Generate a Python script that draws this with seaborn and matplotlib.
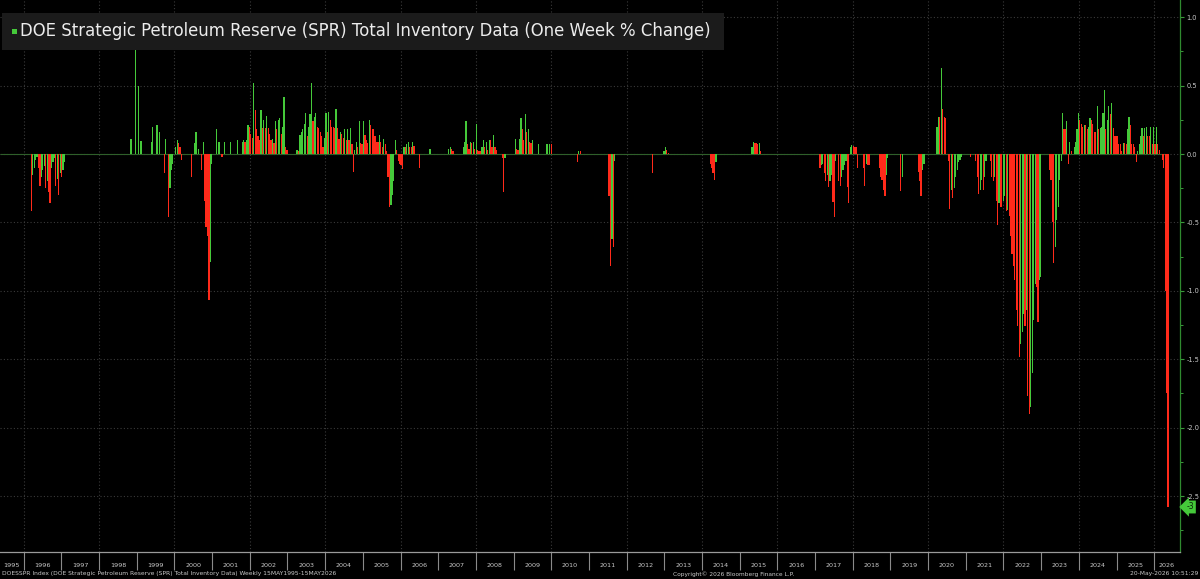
import numpy as np
import pandas as pd
import matplotlib
matplotlib.use("Agg")
import matplotlib.pyplot as plt
import matplotlib.dates as mdates
import matplotlib.transforms as mtrans
from matplotlib.patches import Rectangle
import seaborn as sns

# ---------------- texts ----------------
title_text = "DOE Strategic Petroleum Reserve (SPR) Total Inventory Data (One Week % Change)"
footer_left = "DOESSPR Index (DOE Strategic Petroleum Reserve (SPR) Total Inventory Data) Weekly 15MAY1995-15MAY2026"
footer_mid = "Copyright\u00a9 2026 Bloomberg Finance L.P."
footer_right = "20-May-2026 10:51:29"
last_label = "-3"

first_date = "1995-05-19"
last_date = "2026-05-15"
year_labels = list(range(1995, 2027))
y_ticks = [1.0, 0.5, 0.0, -0.5, -1.0, -1.5, -2.0, -2.5]

# ---------------- data: one-week % change, read at ~2-week resolution ----------------
# each episode: start (decimal year) and consecutive bi-weekly readings
ep_1996_start = 1996.21
ep_1996 = [-0.42, -0.15, -0.10, -0.04, -0.02, -0.10, -0.23, -0.17, -0.12, -0.09,
           -0.25, -0.20, -0.28, -0.36, -0.10, -0.06, -0.03, -0.23, -0.18, -0.30,
           -0.14, -0.17, -0.12, -0.06]

ep_1998_start = 1998.848
ep_1998_2002 = [0.107, 0, 0, 0.80, 0, 0.50, 0, 0.095, 0, 0,
                0, 0, 0, 0, 0.09, 0.195, 0, 0, 0.21, 0,
                0.16, 0, 0, -0.14, 0.11, 0, -0.46, -0.25, -0.12, -0.07,
                0, 0.05, 0.10, 0.08, 0.05, -0.04, 0, 0, 0, 0,
                0, 0, -0.17, 0, 0.08, 0.16, 0, 0.04, 0, -0.12,
                0.085, -0.34, -0.53, -0.60, -1.07, -0.79, -0.07, 0, 0, 0.18,
                0, 0.085, 0, -0.02, 0, 0.085, 0, 0, 0, 0.09,
                0, 0, 0, 0, 0.10, 0, 0, 0.09, 0.10, 0.09,
                0.10, 0.21, 0.20, 0.15, 0.12, 0.52, 0.32, 0.18, 0.13, 0.10,
                0.32, 0.19, 0.25, 0.19, 0.28, 0.19, 0.15, 0.10, 0.11, 0.08]
ep_2002_2006 = [0.24, 0.18, 0.25, 0.26, 0.15, 0.20, 0.42, 0.05, 0.03, 0,
                0, 0, 0, 0, 0, 0.03, 0.02, 0.14, 0.16, 0.18,
                0.22, 0.30, 0.13, 0.20, 0.29, 0.52, 0.24, 0.27, 0.30, 0.20,
                0.19, 0.16, 0.13, 0.05, 0.12, 0.30, 0.16, 0.31, 0.25, 0.20,
                0.20, 0.19, 0.33, 0.19, 0.11, 0.16, 0.15, 0.12, 0.18, 0.10,
                0.18, 0.10, 0.19, 0.07, -0.13, 0.03, 0.09, 0.05, 0.24, 0.08,
                0.07, 0.24, 0.14, 0.10, 0.08, 0.25, 0.21, 0.18, 0.18, 0.13,
                0.09, 0.09, 0.14, 0.09, 0.05, 0.11, 0.07, 0.02, -0.17, -0.39,
                -0.37, -0.30, -0.20, 0.10, 0.03, -0.05, -0.07, -0.08, -0.11, 0.05,
                0.05, 0.07, 0.09, 0.05, 0.05, 0.09, 0.06, 0, 0, 0]
ep_2006_2010 = [-0.105, 0, 0, 0, 0, 0, 0, 0.04, 0, 0,
                0, 0, 0, 0, 0, 0, 0, 0, 0, 0,
                0.04, 0.05, 0.04, 0.02, 0, 0, 0, 0, 0, 0,
                0.05, 0.09, 0.24, 0.07, 0.04, 0.09, 0.08, 0.09, 0.04, 0.22,
                0.03, 0.02, 0.02, 0.05, 0.10, 0.05, 0.09, 0.03, 0.10, 0.10,
                0.05, 0.14, 0.05, 0.03, 0, 0, 0, -0.03, -0.28, -0.03,
                0, 0, 0, 0, 0, 0, 0.11, 0.04, 0.03, 0.11,
                0.26, 0.18, 0.10, 0.29, 0.16, 0.18, 0.09, 0.08, 0.10, 0,
                0, 0, 0.07, 0, 0, 0, 0, 0, 0.07, 0,
                0.07, 0.07]

ep_2010_start = 2010.695
ep_2010 = [-0.056, 0.025, 0.02]
ep_2011_start = 2011.539
ep_2011 = [-0.31, -0.82, -0.62, -0.68, -0.05]
ep_2012a_start = 2012.688
ep_2012a = [-0.14]
ep_2012b_start = 2012.996
ep_2012b = [0.02, 0.05, 0.03, 0.01]
ep_2014_start = 2014.222
ep_2014 = [-0.07, -0.10, -0.14, -0.19, -0.06]
ep_2015_start = 2015.334
ep_2015 = [0.05, 0.09, 0.08, 0.08, 0.07, 0.08, 0.02]

ep_2017_start = 2017.136
ep_2017_2020 = [-0.10, -0.08, -0.07, -0.14, -0.20, -0.15, -0.24, -0.20, -0.15, -0.35,
                -0.46, -0.05, 0, -0.20, -0.23, -0.17, -0.12, -0.08, -0.05, -0.24,
                -0.36, 0.05, 0.066, 0.06, 0.055, 0.05, -0.10, 0, 0, 0,
                -0.10, -0.23, -0.07, -0.08, -0.08, 0, 0, 0, 0, 0,
                0, -0.10, -0.17, -0.19, -0.26, -0.31, -0.15, -0.03, 0, 0,
                0, 0, 0, 0, 0, 0, -0.27, -0.17, 0, 0,
                0, 0, 0, 0, 0, 0, 0, 0, -0.13, -0.20,
                -0.31, -0.12, -0.07, 0, 0, 0, 0, 0, 0, 0,
                0, 0.20, 0.27, 0.27, 0.63, 0.33, 0.27, 0.26, 0, -0.05,
                -0.40, -0.26, -0.32, -0.25, -0.17, -0.12, -0.06, -0.04, -0.02, 0]
ep_2021_2024 = [0, 0, 0, 0, -0.02, 0, 0, 0, -0.05, -0.17,
                -0.29, -0.26, -0.19, -0.26, -0.17, -0.05, 0, 0, -0.05, -0.17,
                -0.20, -0.17, -0.34, -0.52, -0.36, -0.39, -0.39, -0.34, -0.31, -0.42,
                -0.41, -0.45, -0.60, -0.73, -0.82, -0.92, -1.14, -1.26, -1.48, -1.39,
                -1.30, -1.17, -1.26, -1.14, -1.77, -1.90, -1.85, -1.60, -1.21, -0.95,
                -0.97, -1.23, -0.92, -0.90, 0, 0, 0, 0, 0, -0.12,
                -0.19, -0.50, -0.80, -0.68, -0.48, -0.39, -0.19, -0.05, 0.30, 0.18,
                0.18, 0.24, -0.07, 0.09, 0.02, 0, 0.05, 0.09, 0.18, 0.30,
                0.25, 0.22, 0.20, 0.21, 0.21, 0.18, 0.20, 0.26, 0.25, 0.22,
                0.16, 0.16, 0.35, 0.18, 0.19, 0.20, 0.30, 0.47, 0.18, 0.25]
ep_2024_2026 = [0.35, 0.29, 0.37, 0.19, 0.13, 0.13, 0.13, 0.07, 0.07, 0.02,
                0.08, 0.08, 0.07, 0.18, 0.27, 0.21, 0.07, 0.07, 0.05, -0.06,
                0.02, 0.07, 0.13, 0.19, 0.13, 0.19, 0.20, 0.13, 0.13, 0.20,
                0.07, 0.20, 0.07, 0.20, 0.07, 0.03, 0, -0.04, -0.10, -1.00,
                -1.75, -2.58]

episodes = [
    (ep_1996_start, ep_1996),
    (ep_1998_start, ep_1998_2002 + ep_2002_2006 + ep_2006_2010),
    (ep_2010_start, ep_2010),
    (ep_2011_start, ep_2011),
    (ep_2012a_start, ep_2012a),
    (ep_2012b_start, ep_2012b),
    (ep_2014_start, ep_2014),
    (ep_2015_start, ep_2015),
    (ep_2017_start, ep_2017_2020 + ep_2021_2024 + ep_2024_2026),
]

# ---------------- styling ----------------
GREEN = "#45c93a"
RED = "#ff2a1a"
GRID = "#3a3a3a"
TXT = "#c9c9c9"

sns.set_theme(style="dark")
plt.rcParams["font.family"] = ["DejaVu Sans"]
plt.rcParams["figure.facecolor"] = "black"
plt.rcParams["axes.facecolor"] = "black"


def dec_year(t):
    y = int(np.floor(t))
    return pd.Timestamp(year=y, month=1, day=1) + pd.Timedelta(days=(t - y) * 365.25)


grid = pd.date_range(end=last_date, periods=840, freq="14D")
rows = []
for start, vals in episodes:
    i0 = int(np.argmin(np.abs((grid - dec_year(start)).days)))
    prev = 0.0
    for k, v in enumerate(vals):
        rows.append((grid[i0 + k], v, "up" if v > prev else "down"))
        prev = v
df = pd.DataFrame(rows, columns=["date", "value", "move"])
df["x"] = mdates.date2num(df["date"])

W, H = 1200, 579
fig = plt.figure(figsize=(W / 100, H / 100), dpi=100)
fig.patch.set_facecolor("black")
ax = fig.add_axes([0, 27 / H, 1180 / W, 552 / H])
ax.set_facecolor("black")

# grid
x_left = mdates.date2num(pd.Timestamp("1995-05-17"))
x_right = mdates.date2num(pd.Timestamp("2026-09-08"))
for yr in range(1996, 2027, 2):
    ax.axvline(mdates.date2num(pd.Timestamp(f"{yr}-01-01")), color=GRID, lw=0.8,
               ls=(0, (1, 2)), zorder=0)
for yv in y_ticks:
    ax.axhline(yv, color=GRID, lw=0.8, ls=(0, (1, 2)), zorder=0)

# zero baseline
ax.hlines(0, mdates.date2num(pd.Timestamp(first_date)), mdates.date2num(pd.Timestamp(last_date)),
          color="#2f5f2a", lw=0.8, zorder=1)

sns.barplot(data=df, x="x", y="value", hue="move", palette={"up": GREEN, "down": RED},
            native_scale=True, dodge=False, errorbar=None, width=0.8, saturation=1,
            linewidth=0, edgecolor="none", legend=False, ax=ax, zorder=2)

ax.set_xlim(x_left, x_right)
ax.set_ylim(-2.909, 1.126)
ax.set_xlabel("")
ax.set_ylabel("")
ax.set_xticks([])
ax.grid(False)

# right axis
ax.yaxis.tick_right()
ax.set_yticks(y_ticks)
ax.set_yticklabels([f"{v:.1f}" for v in y_ticks])
ax.set_yticks([v - 0.25 for v in y_ticks], minor=True)
ax.tick_params(axis="y", which="major", direction="out", length=3, width=0.8,
               color="#3a9a3a", labelcolor=TXT, labelsize=4.8, pad=1.5)
ax.tick_params(axis="y", which="minor", direction="out", length=2, width=0.7, color="#3a9a3a")
for s in ["top", "left"]:
    ax.spines[s].set_visible(False)
ax.spines["right"].set_color("#2f8a2f")
ax.spines["right"].set_linewidth(0.9)
ax.spines["bottom"].set_color("#9a9a9a")
ax.spines["bottom"].set_linewidth(0.9)

# last value tag
last_val = df["value"].iloc[-1]
ax.annotate(last_label, xy=(1.0, last_val),
            xycoords=mtrans.blended_transform_factory(ax.transAxes, ax.transData),
            xytext=(4.5, 0), textcoords="offset points", va="center", ha="left",
            fontsize=5.6, color="#0a240a", annotation_clip=False,
            bbox=dict(boxstyle="larrow,pad=0.25", fc=GREEN, ec="none"))

# year band
bt = mtrans.blended_transform_factory(ax.transData, ax.transAxes)
seps = [mdates.date2num(pd.Timestamp(f"{yr}-01-01")) for yr in range(1996, 2027)]
ax.vlines(seps, -0.032, 0, transform=bt, color="#8a8a8a", lw=0.8, clip_on=False)
for yr in year_labels:
    a = max(mdates.date2num(pd.Timestamp(f"{yr}-01-01")), x_left)
    b = min(mdates.date2num(pd.Timestamp(f"{yr + 1}-01-01")), x_right)
    ax.text((a + b) / 2, -0.0245, str(yr), transform=bt, ha="center", va="center",
            fontsize=4.6, color=TXT, clip_on=False)

# title box
fig.patches.append(Rectangle((2 / W, 1 - 50 / H), 722 / W, 37 / H, transform=fig.transFigure,
                             fc="#1b1b1b", ec="none", zorder=5))
fig.patches.append(Rectangle((12 / W, 1 - 33.5 / H), 5 / W, 5 / H, transform=fig.transFigure,
                             fc=GREEN, ec="none", zorder=6))
t_title = fig.text(20 / W, 1 - 31.5 / H, title_text, ha="left", va="center", color="#ececec",
                   fontsize=11, zorder=7)

f1 = fig.text(2 / W, 1 - 574 / H, footer_left, ha="left", va="center", color=TXT, fontsize=4.5)
f2 = fig.text(673 / W, 1 - 574 / H, footer_mid, ha="left", va="center", color=TXT, fontsize=4.5)
f3 = fig.text(1198 / W, 1 - 574 / H, footer_right, ha="right", va="center", color=TXT, fontsize=4.5)

renderer = fig.canvas.get_renderer()
for txt, target in [(t_title, 694), (f1, 337), (f2, 122), (f3, 68)]:
    w = txt.get_window_extent(renderer).width
    txt.set_fontsize(txt.get_fontsize() * target / w)

fig.savefig("out.png", dpi=100, facecolor="black")
